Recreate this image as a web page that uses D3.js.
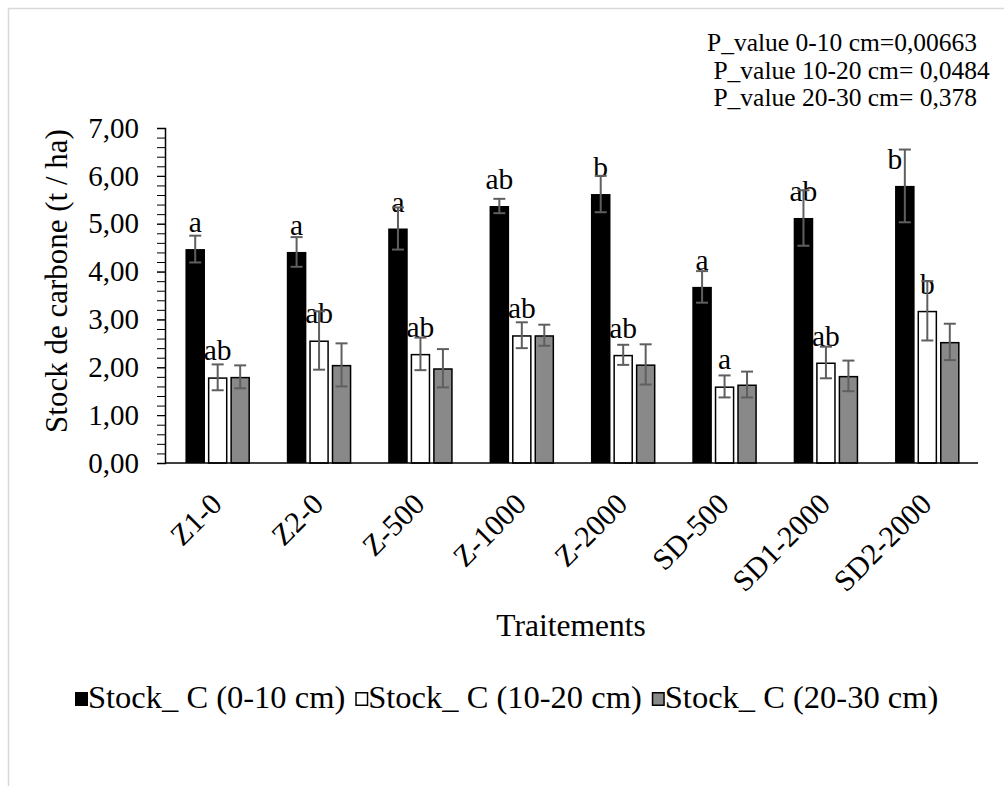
<!DOCTYPE html>
<html>
<head>
<meta charset="utf-8">
<script src="https://cdn.jsdelivr.net/npm/d3@7"></script>
</head>
<body style="margin:0;padding:0;background:#fff;">
<svg id="chart" width="1004" height="786" font-family="Liberation Serif" style="display:block;"></svg>
<script>
// ---------- data ----------
const categories = ["Z1-0", "Z2-0", "Z-500", "Z-1000", "Z-2000", "SD-500", "SD1-2000", "SD2-2000"];
const seriesNames = ["Stock_ C (0-10 cm)", "Stock_ C (10-20 cm)", "Stock_ C (20-30 cm)"];
const stock0_10  = [4.47, 4.41, 4.90, 5.37, 5.62, 3.68, 5.12, 5.79];
const err0_10    = [0.28, 0.31, 0.44, 0.15, 0.38, 0.33, 0.58, 0.76];
const stock10_20 = [1.79, 2.56, 2.28, 2.67, 2.26, 1.60, 2.10, 3.18];
const err10_20   = [0.27, 0.61, 0.34, 0.27, 0.21, 0.23, 0.33, 0.62];
const stock20_30 = [1.80, 2.05, 1.98, 2.67, 2.06, 1.64, 1.82, 2.53];
const err20_30   = [0.24, 0.45, 0.40, 0.22, 0.42, 0.27, 0.32, 0.38];
const letters0_10  = ["a", "a", "a", "ab", "b", "a", "ab", "b"];
const letters10_20 = ["ab", "ab", "ab", "ab", "ab", "a", "ab", "b"];
const letters20_30 = ["", "", "", "", "", "", "", ""];
const yTickValues = [0, 1, 2, 3, 4, 5, 6, 7];
const pValueLines = ["P_value 0-10 cm=0,00663", " P_value 10-20 cm= 0,0484", " P_value 20-30 cm= 0,378"];
const yTitle = "Stock de carbone (t / ha)";
const xTitle = "Traitements";

// ---------- styles ----------
const FONT = "Liberation Serif";
const fills = ["#000000", "#ffffff", "#898989"];
const errColor = "#5f5f5f";

const seriesValues = [stock0_10, stock10_20, stock20_30];
const seriesErrors = [err0_10, err10_20, err20_30];
const seriesLetters = [letters0_10, letters10_20, letters20_30];

const svg = d3.select("#chart");

// outer frame
svg.append("rect")
  .attr("x", 8.5).attr("y", 8.5)
  .attr("width", 1010).attr("height", 800)
  .attr("fill", "none").attr("stroke", "#d9d9d9").attr("stroke-width", 1.5);

// scales
const x0 = d3.scaleBand().domain(categories).range([167, 978]).paddingInner(0).paddingOuter(0);
const x1 = d3.scaleBand().domain(d3.range(3)).range([0, x0.bandwidth()]).paddingInner(0.13).paddingOuter(0.82);
const y = d3.scaleLinear().domain([0, 7]).range([463, 128]);

// y minor ticks
const yMinor = d3.axisLeft(y).tickValues(d3.range(0, 7.0001, 0.2)).tickSize(8).tickFormat("");
const gMinor = svg.append("g").attr("transform", "translate(165,0)").call(yMinor);
gMinor.select(".domain").remove();
gMinor.selectAll("line").attr("stroke", "#000").attr("stroke-width", 1);

// y major axis
const yAxis = d3.axisLeft(y).tickValues(yTickValues).tickSize(8).tickPadding(18)
  .tickFormat(d => d3.format(".2f")(d).replace(".", ","));
const gy = svg.append("g").attr("transform", "translate(165,0)").call(yAxis);
gy.attr("font-family", FONT).attr("font-size", 29);
gy.select(".domain").attr("stroke", "#000").attr("stroke-width", 1.5);
gy.selectAll("line").attr("stroke", "#000").attr("stroke-width", 1);
gy.selectAll("text").attr("font-size", 29).attr("fill", "#000");

// bars
const groups = svg.append("g").selectAll("g")
  .data(categories).join("g")
  .attr("transform", d => `translate(${x0(d)},0)`);

groups.each(function(cat, ci) {
  const g = d3.select(this);
  seriesValues.forEach((vals, si) => {
    const v = vals[ci];
    const bx = x1(si), bw = x1.bandwidth();
    const inset = si === 0 ? 0 : 0.75;
    g.append("rect")
      .attr("x", bx + inset)
      .attr("y", y(v) + inset)
      .attr("width", bw - 2 * inset)
      .attr("height", y(0) - y(v) - inset)
      .attr("fill", fills[si])
      .attr("stroke", si === 0 ? "none" : "#000")
      .attr("stroke-width", 1.5);
  });
});

// data labels
const labelOffset = { "SD2-2000": [-10, 0, 0] };
groups.each(function(cat, ci) {
  const g = d3.select(this);
  seriesLetters.forEach((letters, si) => {
    const t = letters[ci];
    if (!t) return;
    const off = (labelOffset[cat] || [0, 0, 0])[si];
    g.append("text")
      .attr("x", x1(si) + x1.bandwidth() / 2 + off)
      .attr("y", y(seriesValues[si][ci]) - 17)
      .attr("text-anchor", "middle")
      .attr("font-size", 29.5)
      .text(t);
  });
});

// error bars
groups.each(function(cat, ci) {
  const g = d3.select(this);
  seriesValues.forEach((vals, si) => {
    const v = vals[ci], e = seriesErrors[si][ci];
    const cx = x1(si) + x1.bandwidth() / 2;
    const eg = g.append("g").attr("stroke", errColor).attr("stroke-width", 2);
    eg.append("line").attr("x1", cx).attr("x2", cx).attr("y1", y(v + e)).attr("y2", y(v - e));
    eg.append("line").attr("x1", cx - 6).attr("x2", cx + 6).attr("y1", y(v + e)).attr("y2", y(v + e));
    eg.append("line").attr("x1", cx - 6).attr("x2", cx + 6).attr("y1", y(v - e)).attr("y2", y(v - e));
  });
});

// x axis line
const xAxis = d3.axisBottom(x0).tickSize(0).tickFormat("");
const gx = svg.append("g").attr("transform", `translate(0,${y(0)})`).call(xAxis);
gx.select(".domain").attr("stroke", "#000").attr("stroke-width", 1.5).attr("d", `M165,0H978`);

// x tick labels (rotated)
svg.append("g").selectAll("text")
  .data(categories).join("text")
  .attr("transform", d => `translate(${x0(d) + x0.bandwidth() / 2 + 6},506) rotate(-45)`)
  .attr("text-anchor", "end")
  .attr("font-size", 30)
  .text(d => d);

// axis titles
svg.append("text")
  .attr("transform", "translate(67,281) rotate(-90)")
  .attr("text-anchor", "middle")
  .attr("font-size", 31)
  .text(yTitle);

svg.append("text")
  .attr("x", 571).attr("y", 636)
  .attr("text-anchor", "middle")
  .attr("font-size", 31.5)
  .text(xTitle);

// p-values
svg.append("g").selectAll("text")
  .data(pValueLines).join("text")
  .attr("x", 707)
  .attr("y", (d, i) => 51 + i * 27.5)
  .attr("font-size", 25.5)
  .attr("xml:space", "preserve")
  .text(d => d);

// legend
const legend = svg.append("g");
let lx = 75;
seriesNames.forEach((name, si) => {
  legend.append("rect")
    .attr("x", lx + 0.75).attr("y", 692.75)
    .attr("width", 11.5).attr("height", 12.5)
    .attr("fill", fills[si]).attr("stroke", "#000").attr("stroke-width", 1.5);
  const t = legend.append("text")
    .attr("x", lx + 13).attr("y", 708)
    .attr("font-size", 32.5)
    .attr("font-family", FONT)
    .text(name);
  const w = t.node().getComputedTextLength();
  lx = lx + 13 + w + 10;
});

// font on every text element
svg.selectAll("text")
  .attr("font-family", FONT)
  .attr("style", 'font-family: "Liberation Serif", serif; fill: #000;');
</script>
</body>
</html>
